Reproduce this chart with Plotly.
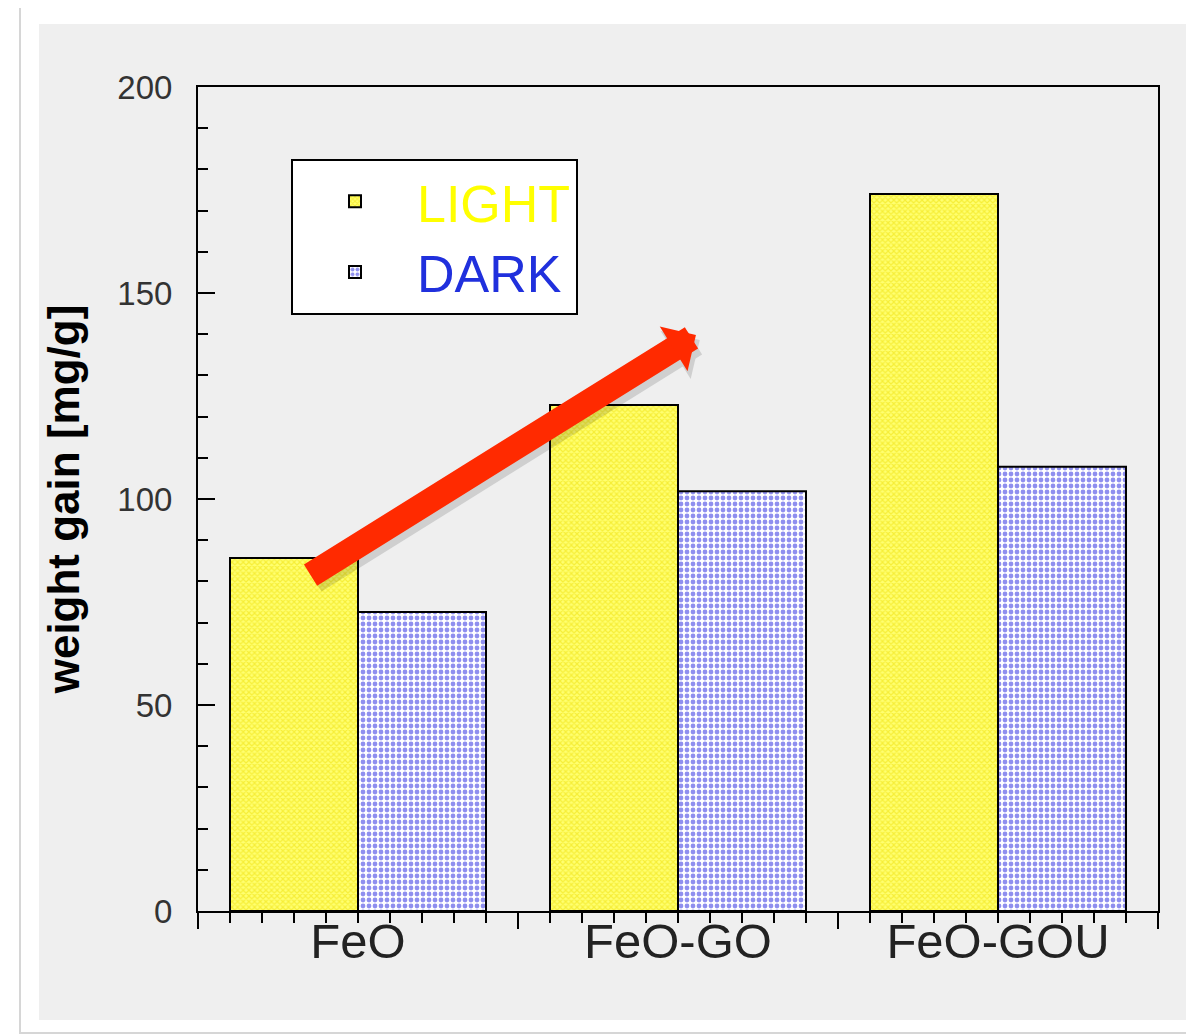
import plotly.graph_objects as go

categories = ["FeO", "FeO-GO", "FeO-GOU"]
light_values = [85.7, 122.8, 174.0]
dark_values = [72.6, 101.9, 107.8]
y_ticks = [0, 50, 100, 150, 200]

# arrow drawn over the chart (tail -> head, data units)
arrow_tail = (-0.153, 81.3)
arrow_head = (1.056, 139.8)

W, H = 1194, 1035
OFF = 8  # page body margin
L, T = 198 - OFF, 87 - OFF
pw, ph = 960, 824
R, B = W - L - pw, H - T - ph


def px(x):
    return (x - OFF - L) / pw


def py(y):
    return (T + ph - (y - OFF)) / ph


xpos = list(range(len(categories)))

fig = go.Figure()
fig.add_trace(go.Bar(
    x=xpos, y=light_values, name="<span style='color:#ffff00'>LIGHT</span>",
    marker=dict(color="#ffff66", line=dict(color="black", width=2),
                pattern=dict(shape="x", fgcolor="#eedd00", bgcolor="#ffff70", size=4, solidity=0.5)),
))
fig.add_trace(go.Bar(
    x=xpos, y=dark_values, name="<span style='color:#2030dd'>DARK</span>",
    marker=dict(color="white", line=dict(color="black", width=2),
                pattern=dict(shape=".", fgcolor="#2020e0", bgcolor="white", size=6, solidity=0.5)),
))
# carrier for the long category-boundary ticks
fig.add_trace(go.Scatter(x=[], y=[], xaxis="x2", showlegend=False, hoverinfo="skip"))

# soft shadow, then the arrow itself
dx, dy = 0.012, -1.2
fig.add_annotation(
    x=arrow_head[0] + dx, y=arrow_head[1] + dy, ax=arrow_tail[0] + dx, ay=arrow_tail[1] + dy,
    xref="x", yref="y", axref="x", ayref="y", text="",
    showarrow=True, arrowhead=1, arrowwidth=27, arrowsize=0.35, arrowcolor="rgba(0,0,0,0.13)",
)
fig.add_annotation(
    x=arrow_head[0], y=arrow_head[1], ax=arrow_tail[0], ay=arrow_tail[1],
    xref="x", yref="y", axref="x", ayref="y", text="",
    showarrow=True, arrowhead=1, arrowwidth=25, arrowsize=0.35, arrowcolor="#ff2a00",
)

shapes = [
    dict(type="rect", xref="paper", yref="paper", x0=px(20), x1=px(1240), y0=py(1033), y1=py(5),
         fillcolor="white", line=dict(color="#d6d6d6", width=2), layer="below"),
    dict(type="rect", xref="paper", yref="paper", x0=px(39), x1=px(1240), y0=py(1020), y1=py(24),
         fillcolor="#efefef", line=dict(width=0), layer="below"),
]

fig.update_layout(
    width=W, height=H,
    margin=dict(l=L, r=R, t=T, b=B, autoexpand=False),
    paper_bgcolor="white", plot_bgcolor="#efefef",
    font=dict(family="Liberation Sans, Arial, sans-serif", color="#333333"),
    barmode="group", bargap=0.2, bargroupgap=0,
    shapes=shapes,
    showlegend=True,
    legend=dict(x=px(291), y=py(159), xanchor="left", yanchor="top",
                bgcolor="white", bordercolor="black", borderwidth=2,
                font=dict(size=52), itemwidth=114, tracegroupgap=0),
    xaxis=dict(
        range=[-0.5, 2.5], tickvals=xpos, ticktext=categories,
        tickfont=dict(size=49, color="#222222"),
        ticks="outside", ticklen=10, tickwidth=2, tickcolor="black",
        minor=dict(tick0=-0.5, dtick=0.1, ticks="outside", ticklen=10, tickwidth=2, tickcolor="black"),
        showline=True, linecolor="black", linewidth=2, mirror=True,
        showgrid=False, zeroline=False, ticklabelstandoff=-24,
    ),
    xaxis2=dict(
        range=[-0.5, 2.5], overlaying="x", anchor="y", side="bottom",
        tickvals=[-0.5, 0.5, 1.5, 2.5], showticklabels=False,
        ticks="outside", ticklen=17, tickwidth=2, tickcolor="black",
        showline=False, showgrid=False, zeroline=False,
    ),
    yaxis=dict(
        range=[0, 200], tickvals=y_ticks,
        tickfont=dict(size=33, color="#333333"),
        ticks="inside", ticklen=17, tickwidth=2, tickcolor="black",
        minor=dict(dtick=10, ticks="inside", ticklen=10, tickwidth=2, tickcolor="black"),
        showline=True, linecolor="black", linewidth=2, mirror=True,
        showgrid=False, zeroline=False, ticklabelstandoff=17,
        title=dict(text="<b>weight gain [mg/g]</b>", font=dict(size=44, color="black"), standoff=24),
    ),
)

fig.write_html("out.html")
